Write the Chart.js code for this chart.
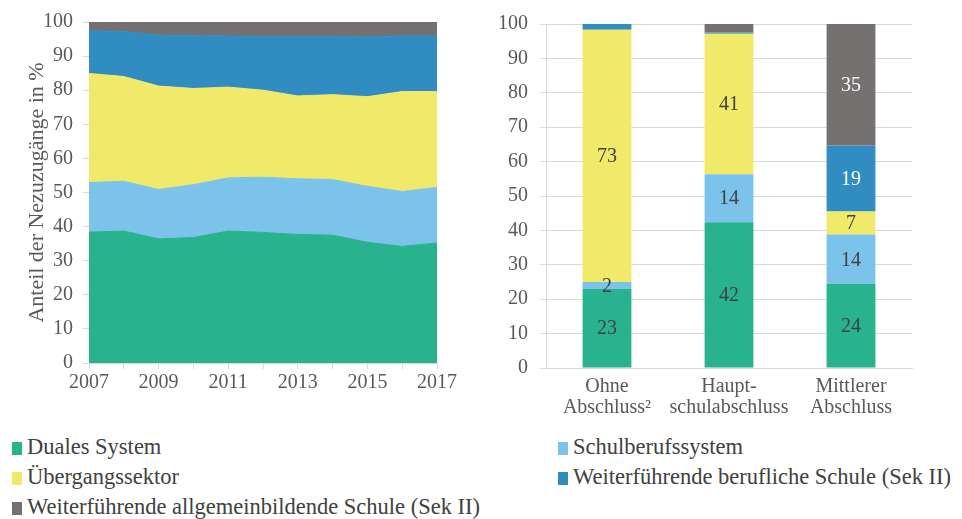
<!DOCTYPE html>
<html>
<head>
<meta charset="utf-8">
<script src="https://cdn.jsdelivr.net/npm/chart.js@4"></script>
<style>
  body { margin: 0; background: #fff; width: 962px; height: 519px; overflow: hidden; position: relative; font-family: "Liberation Serif", "Times New Roman", Tinos, "DejaVu Serif", serif; }
  #leftBox { position: absolute; left: 0; top: 0; width: 470px; height: 400px; }
  #rightBox { position: absolute; left: 480px; top: 0; width: 482px; height: 420px; }
  .leg { position: absolute; font-size: 22.5px; color: #404040; white-space: nowrap; line-height: 24px; }
  .leg span { display: inline-block; width: 10px; height: 13px; margin-right: 5px; vertical-align: -1px; }
</style>
</head>
<body>
<div id="leftBox"><canvas id="areaChart"></canvas></div>
<div id="rightBox"><canvas id="barChart"></canvas></div>
<div class="leg" style="left:12px; top:435px"><span style="background:#28b28e"></span>Duales System</div>
<div class="leg" style="left:558px; top:435px"><span style="background:#7cc3ec"></span>Schulberufssystem</div>
<div class="leg" style="left:12px; top:465px"><span style="background:#f0e96a"></span>Übergangssektor</div>
<div class="leg" style="left:558px; top:465px"><span style="background:#318cc2"></span>Weiterführende berufliche Schule (Sek II)</div>
<div class="leg" style="left:12px; top:495px"><span style="background:#757170"></span>Weiterführende allgemeinbildende Schule (Sek II)</div>
<script>
// --- DATA: left panel (share per year, %) ---
const years = ['2007', '2008', '2009', '2010', '2011', '2012', '2013', '2014', '2015', '2016', '2017'];
const duales = [38.4, 38.7, 36.4, 36.8, 38.7, 38.3, 37.7, 37.5, 35.4, 34.2, 35.2];
const schulberuf = [14.5, 14.6, 14.5, 15.5, 15.6, 16.2, 16.3, 16.3, 16.4, 16.1, 16.3];
const uebergang = [32.0, 30.7, 30.3, 28.2, 26.6, 25.5, 24.3, 24.9, 26.3, 29.3, 28.1];
const beruflich = [12.5, 13.2, 15.0, 15.6, 15.0, 15.8, 17.5, 17.1, 17.5, 16.4, 16.4];
const allgemein = [2.6, 2.8, 3.8, 3.9, 4.1, 4.2, 4.2, 4.2, 4.4, 4.0, 4.0];

// --- DATA: right panel (by school leaving certificate, %) ---
const abschluesse = [['Ohne', 'Abschluss²'], ['Haupt-', 'schulabschluss'], ['Mittlerer', 'Abschluss']];
const barDuales = [23.0, 42.4, 24.4];
const barSchul = [2.0, 13.9, 14.4];
const barUeber = [73.3, 40.9, 6.7];
const barBerufl = [1.7, 0.3, 19.2];
const barAllg = [0, 2.5, 35.3];
// printed labels (null = no label in the figure)
const lblDuales = [23, 42, 24];
const lblSchul = [2, 14, 14];
const lblUeber = [73, 41, 7];
const lblBerufl = [null, null, 19];
const lblAllg = [null, null, 35];

const yTicks = [0, 10, 20, 30, 40, 50, 60, 70, 80, 90, 100];

const COLORS = {
    duales: '#28b28e',
    schul: '#7cc3ec',
    ueber: '#f0e96a',
    berufl: '#318cc2',
    allg: '#757170'
};

const SERIF = '"Liberation Serif", "Times New Roman", Tinos, "DejaVu Serif", serif';
Chart.defaults.font.family = SERIF;
Chart.defaults.color = '#595959';
Chart.defaults.animation = false;

// --- LEFT: stacked area ---
function area(label, data, color, fill) {
    return { label: label, data: data, backgroundColor: color, borderColor: color, borderWidth: 1,
             fill: fill, pointRadius: 0, tension: 0 };
}

new Chart(document.getElementById('areaChart'), {
    type: 'line',
    data: {
        labels: years,
        datasets: [
            area('Duales System', duales, COLORS.duales, 'origin'),
            area('Schulberufssystem', schulberuf, COLORS.schul, '-1'),
            area('Übergangssektor', uebergang, COLORS.ueber, '-1'),
            area('Weiterführende berufliche Schule (Sek II)', beruflich, COLORS.berufl, '-1'),
            area('Weiterführende allgemeinbildende Schule (Sek II)', allgemein, COLORS.allg, '-1')
        ]
    },
    options: {
        responsive: true, maintainAspectRatio: false,
        layout: { padding: { top: 21, right: 33, left: 0, bottom: 0 } },
        plugins: { legend: { display: false }, tooltip: { enabled: false } },
        scales: {
            x: {
                offset: false,
                grid: { drawOnChartArea: false, tickLength: 6, color: '#d9d9d9' },
                border: { color: '#d9d9d9' },
                ticks: { autoSkip: false, maxRotation: 0, padding: 2, font: { size: 20 },
                         callback: function(v, i) { return i % 2 === 0 ? years[i] : ''; } },
                afterFit: function(s) { s.height = 37; }
            },
            y: {
                stacked: true, min: 0, max: 100,
                afterBuildTicks: function(s) { s.ticks = yTicks.map(v => ({ value: v })); },
                grid: { drawOnChartArea: false, tickLength: 6, color: '#d9d9d9' },
                border: { color: '#d9d9d9' },
                ticks: { padding: 10, font: { size: 20 } },
                title: { display: true, text: 'Anteil der Nezuzugänge in %', font: { size: 22 }, padding: { top: 24, bottom: 0 } },
                afterFit: function(s) { s.width = 89; }
            }
        }
    }
});

// --- RIGHT: stacked bars with value labels ---
const segLabels = [lblDuales, lblSchul, lblUeber, lblBerufl, lblAllg];
const segTextColor = ['#404040', '#404040', '#404040', '#ffffff', '#ffffff'];

const barValuePlugin = {
    id: 'barValues',
    afterDatasetsDraw(chart) {
        const ctx = chart.ctx;
        ctx.save();
        ctx.font = '20px ' + SERIF;
        ctx.textAlign = 'center';
        ctx.textBaseline = 'middle';
        chart.data.datasets.forEach((ds, di) => {
            chart.getDatasetMeta(di).data.forEach((el, i) => {
                const txt = segLabels[di][i];
                if (txt === null) return;
                const p = el.getProps(['x', 'y', 'base'], true);
                ctx.fillStyle = segTextColor[di];
                ctx.fillText(String(txt), p.x, (p.y + p.base) / 2 + 1);
            });
        });
        ctx.restore();
    }
};

function bar(label, data, color) {
    return { label: label, data: data, backgroundColor: color, borderWidth: 0,
             barPercentage: 0.4, categoryPercentage: 1 };
}

new Chart(document.getElementById('barChart'), {
    type: 'bar',
    data: {
        labels: abschluesse,
        datasets: [
            bar('Duales System', barDuales, COLORS.duales),
            bar('Schulberufssystem', barSchul, COLORS.schul),
            bar('Übergangssektor', barUeber, COLORS.ueber),
            bar('Weiterführende berufliche Schule (Sek II)', barBerufl, COLORS.berufl),
            bar('Weiterführende allgemeinbildende Schule (Sek II)', barAllg, COLORS.allg)
        ]
    },
    options: {
        responsive: true, maintainAspectRatio: false,
        layout: { padding: { top: 23, right: 50, left: 0, bottom: 0 } },
        plugins: { legend: { display: false }, tooltip: { enabled: false } },
        scales: {
            x: {
                stacked: true,
                grid: { display: false },
                border: { color: '#d9d9d9' },
                ticks: { maxRotation: 0, padding: 0, font: { size: 20, lineHeight: 1.05 } },
                afterFit: function(s) { s.height = 52; }
            },
            y: {
                stacked: true, min: 0, max: 100,
                afterBuildTicks: function(s) { s.ticks = yTicks.map(v => ({ value: v })); },
                grid: { color: '#d9d9d9', tickLength: 6 },
                border: { color: '#d9d9d9' },
                ticks: { padding: 12, font: { size: 20 } },
                afterFit: function(s) { s.width = 66; }
            }
        }
    },
    plugins: [barValuePlugin]
});
</script>
</body>
</html>
